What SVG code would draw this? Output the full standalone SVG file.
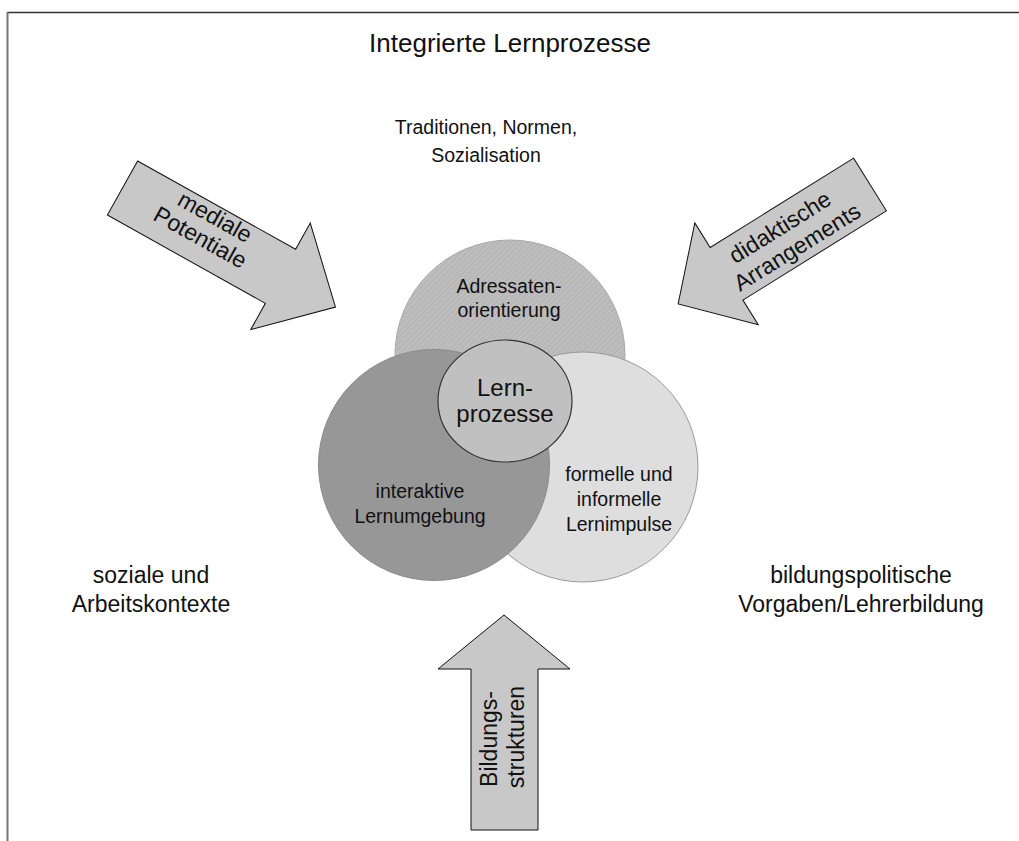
<svg xmlns="http://www.w3.org/2000/svg" width="1019" height="841" viewBox="0 0 1019 841">
<defs>
<style>
text{font-family:"Liberation Sans",Arial,sans-serif;fill:#111;text-anchor:middle}
.arrow{fill:#c8c8c8;stroke:#111;stroke-width:1}
.lab{font-size:23px}
.cl{font-size:19.5px}
</style>
<pattern id="hatch" width="4" height="4" patternUnits="userSpaceOnUse" patternTransform="rotate(45)">
<rect width="4" height="4" fill="#bdbdbd"/>
<line x1="0" y1="0" x2="0" y2="4" stroke="#b0b0b0" stroke-width="1.5"/>
</pattern>
</defs>
<rect width="1019" height="841" fill="#fff"/>
<g id="frame">
<line x1="7" y1="12.5" x2="1019" y2="12.5" stroke="#333" stroke-width="1.5"/>
<line x1="7.5" y1="12" x2="7.5" y2="841" stroke="#777" stroke-width="2"/>
</g>
<g id="title"><text x="510" y="52" font-size="26">Integrierte Lernprozesse</text></g>
<g id="traditionen"><text x="486" y="134" font-size="19.5">Traditionen, Normen,</text><text x="486" y="162" font-size="19.5">Sozialisation</text></g>
<g id="soziale"><text class="lab" x="151" y="583">soziale und</text><text class="lab" x="151" y="612">Arbeitskontexte</text></g>
<g id="bildungspolitisch"><text class="lab" x="861" y="583">bildungspolitische</text><text class="lab" x="861" y="612">Vorgaben/Lehrerbildung</text></g>
<g id="connectors">
<g id="arrow-mediale" transform="translate(122.5,188) rotate(29.2)">
<polygon class="arrow" points="0,-31 181,-31 181,-61 244,0 181,61 181,31 0,31"/>
<text class="lab" x="95" y="-12">mediale</text>
<text class="lab" x="92" y="13">Potentiale</text>
</g>
<g id="arrow-didaktisch">
<polygon class="arrow" transform="translate(870,184.5) rotate(148.1)" points="0,-31 169,-31 169,-60 226,0 169,60 169,31 0,31"/>
<g transform="translate(788.5,237) rotate(-32)">
<text class="lab" x="-2" y="-5">didaktische</text>
<text class="lab" x="2" y="21">Arrangements</text>
</g>
</g>
<g id="arrow-bildung">
<polygon class="arrow" points="471,830 471,669 438,669 504,615 570,669 538,669 538,830"/>
<text class="lab" transform="translate(497,739) rotate(-90)">Bildungs-</text>
<text class="lab" transform="translate(524,737) rotate(-90)">strukturen</text>
</g>
</g>
<g id="node-adressaten">
<circle cx="510" cy="355" r="115" fill="url(#hatch)" stroke="#a8a8a8" stroke-width="1"/>
<text class="cl" x="509" y="293">Adressaten-</text>
<text class="cl" x="509" y="317">orientierung</text>
</g>
<g id="node-formell">
<circle cx="583" cy="467" r="115" fill="#dedede" stroke="#9a9a9a" stroke-width="1"/>
<text class="cl" x="619" y="481">formelle und</text>
<text class="cl" x="619" y="506">informelle</text>
<text class="cl" x="619" y="531">Lernimpulse</text>
</g>
<g id="node-interaktiv">
<circle cx="434" cy="465" r="115.5" fill="#979797" stroke="#8a8a8a" stroke-width="1"/>
<text class="cl" x="420" y="498">interaktive</text>
<text class="cl" x="420" y="523">Lernumgebung</text>
</g>
<g id="node-lernprozesse">
<ellipse cx="505" cy="401" rx="67" ry="61" fill="#c0c0c0" stroke="#333" stroke-width="1.2"/>
<text x="505" y="396" font-size="24">Lern-</text>
<text x="505" y="422" font-size="24">prozesse</text>
</g>
</svg>
